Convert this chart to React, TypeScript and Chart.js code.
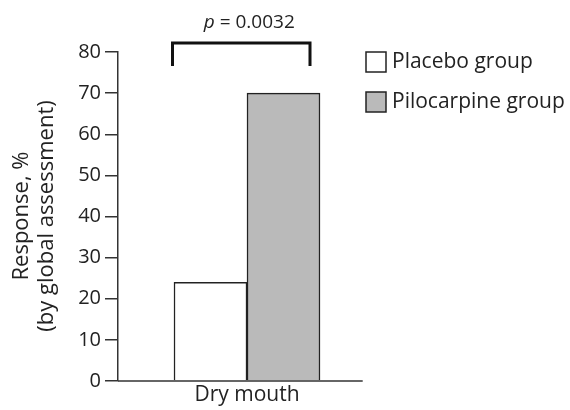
import React, { useEffect, useRef } from "react";
import { Chart, registerables } from "chart.js";

Chart.register(...registerables);

const categories = ["Dry mouth"];
const seriesNames = ["Placebo group", "Pilocarpine group"];
const placeboValues = [24];
const pilocarpineValues = [70];
const yTickMax = 80;
const yTickStep = 10;
const yTitle = ["Response, %", "(by global assessment)"];
const pLabel = "0.0032";

const FONT = "'Open Sans', 'Noto Sans', sans-serif";

const overlay = {
  id: "overlay",
  afterDraw(chart: any) {
    const ctx = chart.ctx as CanvasRenderingContext2D;
    const area = chart.chartArea;
    const y = chart.scales.y;
    ctx.save();
    // baseline
    const y0 = y.getPixelForValue(0);
    ctx.strokeStyle = "#333";
    ctx.lineWidth = 1.5;
    ctx.beginPath();
    ctx.moveTo(area.left, y0);
    ctx.lineTo(362.7, y0);
    ctx.stroke();

    // y title
    ctx.fillStyle = "#222";
    ctx.font = `22px ${FONT}`;
    ctx.textAlign = "center";
    ctx.textBaseline = "middle";
    const cy = 216;
    const xs = [22, 47];
    yTitle.forEach((t, i) => {
      ctx.save();
      ctx.translate(xs[i], cy);
      ctx.rotate(-Math.PI / 2);
      ctx.fillText(t, 0, 0);
      ctx.restore();
    });

    // bracket
    const m0 = chart.getDatasetMeta(0).data[0];
    const m1 = chart.getDatasetMeta(1).data[0];
    const bl = m0.x - m0.width / 2 - 1.5;
    const br = m1.x + m1.width / 2 - 10;
    const top = 43;
    const bot = 66;
    ctx.strokeStyle = "#111";
    ctx.lineWidth = 3;
    ctx.lineCap = "butt";
    ctx.lineJoin = "miter";
    ctx.beginPath();
    ctx.moveTo(bl, bot);
    ctx.lineTo(bl, top);
    ctx.lineTo(br, top);
    ctx.lineTo(br, bot);
    ctx.stroke();

    // p label
    ctx.fillStyle = "#222";
    ctx.textBaseline = "alphabetic";
    ctx.textAlign = "left";
    const pSize = 19;
    ctx.font = `italic ${pSize}px ${FONT}`;
    const pPart = "p";
    const rest = ` = ${pLabel}`;
    const wP = ctx.measureText(pPart).width;
    ctx.font = `${pSize}px ${FONT}`;
    const wR = ctx.measureText(rest).width;
    const cx = (bl + br) / 2 + 8;
    const sx = cx - (wP + wR) / 2;
    ctx.font = `italic ${pSize}px ${FONT}`;
    ctx.fillText(pPart, sx, 28);
    ctx.font = `${pSize}px ${FONT}`;
    ctx.fillText(rest, sx + wP, 28);

    // legend
    const ds = chart.data.datasets;
    ds.forEach((d: any, i: number) => {
      const by = 52 + i * 40;
      ctx.fillStyle = d.backgroundColor;
      ctx.fillRect(366, by, 20, 20);
      ctx.strokeStyle = "#222";
      ctx.lineWidth = 1.5;
      ctx.strokeRect(366, by, 20, 20);
      ctx.fillStyle = "#222";
      ctx.font = `21px ${FONT}`;
      ctx.textAlign = "left";
      ctx.textBaseline = "middle";
      ctx.fillText(d.label, 392, by + 10);
    });
    ctx.restore();
  },
};

export default function App() {
  const ref = useRef<HTMLCanvasElement>(null);
  useEffect(() => {
    document.body.style.margin = "0";
    const chart = new Chart(ref.current!, {
      type: "bar",
      data: {
        labels: categories,
        datasets: [
          {
            label: seriesNames[0],
            data: placeboValues,
            backgroundColor: "#ffffff",
            borderColor: "#222",
            borderWidth: 1.5,
            barThickness: 73,
          },
          {
            label: seriesNames[1],
            data: pilocarpineValues,
            backgroundColor: "#bababa",
            borderColor: "#222",
            borderWidth: 1.5,
            barThickness: 73,
          },
        ],
      },
      options: {
        animation: false,
        responsive: false,
        maintainAspectRatio: false,
        layout: { padding: { top: 52, right: 194, left: 0, bottom: 0 } },
        plugins: { legend: { display: false }, tooltip: { enabled: false } },
        scales: {
          x: {
            grid: { display: false, drawTicks: false },
            border: { display: false },
            ticks: { color: "#222", font: { family: FONT, size: 21 }, padding: 1 },
            afterFit: (s: any) => {
              s.height = 29;
            },
          },
          y: {
            min: 0,
            max: yTickMax,
            ticks: {
              stepSize: yTickStep,
              color: "#222",
              font: { family: FONT, size: 20 },
              padding: 4,
            },
            grid: { drawOnChartArea: false, tickLength: 13, color: "#333", lineWidth: 1.5 },
            border: { color: "#333", width: 1.5 },
            afterFit: (s: any) => {
              s.width = 118;
            },
          },
        },
      },
      plugins: [overlay],
    });
    return () => chart.destroy();
  }, []);
  return (
    <div style={{ width: 570, height: 410 }}>
      <canvas ref={ref} width={570} height={410} />
    </div>
  );
}
